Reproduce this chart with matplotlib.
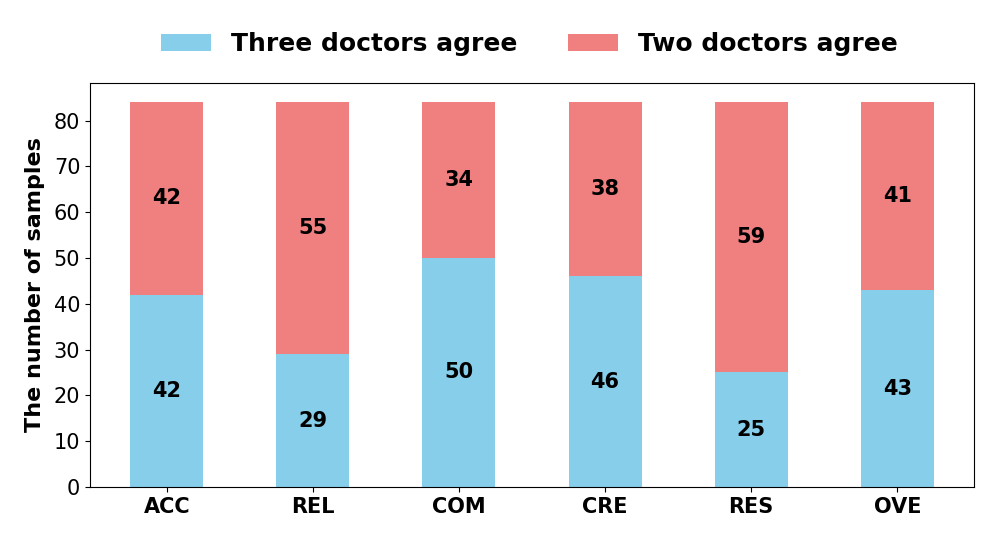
import matplotlib
matplotlib.use("Agg")
import matplotlib.pyplot as plt
import numpy as np

categories = ["ACC", "REL", "COM", "CRE", "RES", "OVE"]
three_agree = [42, 29, 50, 46, 25, 43]
two_agree = [42, 55, 34, 38, 59, 41]

fig = plt.figure(figsize=(9.97, 5.42), dpi=100)
ax = fig.add_axes([90/997, 1-487/542, (974-90)/997, (487-83)/542])

x = np.arange(len(categories))
w = 0.5
b1 = ax.bar(x, three_agree, w, color="skyblue", label="Three doctors agree")
b2 = ax.bar(x, two_agree, w, bottom=three_agree, color="lightcoral", label="Two doctors agree")

for i in range(len(categories)):
    ax.text(x[i], three_agree[i]/2, str(three_agree[i]), ha="center", va="center",
            fontsize=15, fontweight="bold")
    ax.text(x[i], three_agree[i] + two_agree[i]/2, str(two_agree[i]), ha="center", va="center",
            fontsize=15, fontweight="bold")

ax.set_xticks(x)
ax.set_xticklabels(categories, fontsize=15, fontweight="bold")
ax.tick_params(axis="y", labelsize=15)
ax.set_ylabel("The number of samples", fontsize=16, fontweight="bold", labelpad=6)
ax.set_ylim(0, 88.2)

fig.legend(handles=[b1, b2], loc="upper center", bbox_to_anchor=(0.531, 0.982), ncol=2,
           frameon=False, prop={"size": 18, "weight": "bold"}, handlelength=2.0,
           columnspacing=2.0)

fig.savefig("out.png", dpi=100)
